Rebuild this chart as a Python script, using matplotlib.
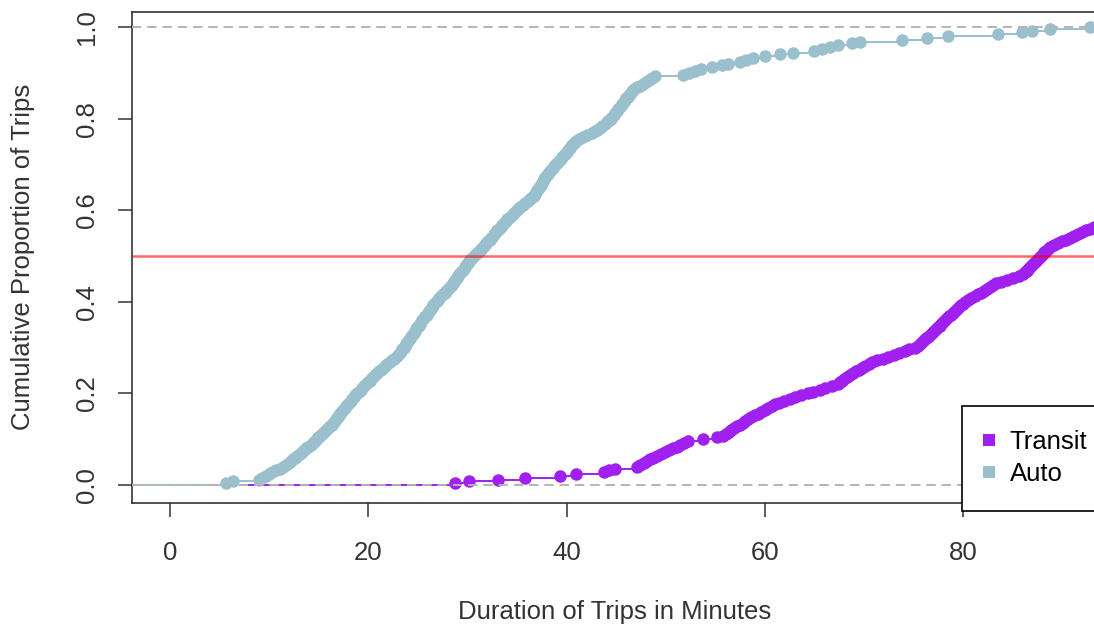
import numpy as np
import matplotlib.pyplot as plt
from matplotlib.lines import Line2D

# trip durations (minutes), one value per point
auto_minutes = [
    5.6, 6.4, 9.0, 9.3, 9.7, 10.0, 10.3, 10.7, 11.1, 11.4, 11.7,
    12.0, 12.2, 12.4, 12.6, 12.8, 13.1, 13.3, 13.5, 13.7, 13.9, 14.2, 14.4,
    14.6, 14.8, 14.9, 15.1, 15.3, 15.5, 15.7, 15.9, 16.1, 16.3,
    16.4, 16.6, 16.7, 16.9, 17.0, 17.2, 17.3, 17.5, 17.7, 17.8, 18.0, 18.1,
    18.3, 18.4, 18.6, 18.7, 18.9,
    19.1, 19.3, 19.4, 19.6, 19.8, 20.0, 20.2, 20.3, 20.5,
    20.7, 20.9, 21.1, 21.3, 21.5, 21.7, 21.9, 22.2, 22.4, 22.6, 22.8, 23.0, 23.2,
    23.3, 23.4, 23.6, 23.7, 23.8, 23.9, 24.1, 24.2, 24.3, 24.4, 24.6, 24.7,
    24.8, 24.9, 25.1, 25.2,
    25.3, 25.4, 25.6, 25.7, 25.9, 26.0, 26.1, 26.3, 26.4, 26.5,
    26.6, 26.8, 27.0, 27.1, 27.3, 27.5, 27.7, 27.8, 28.0, 28.2, 28.4, 28.6,
    28.7, 28.8, 29.0, 29.1, 29.2, 29.4, 29.5, 29.7, 29.8, 29.9, 30.1, 30.2,
    30.3, 30.5, 30.7, 30.9, 31.1, 31.3,
    31.4, 31.6, 31.8, 31.9, 32.1, 32.3, 32.4,
    32.6, 32.7, 32.9, 33.0, 33.2, 33.4, 33.5, 33.7, 33.9,
    34.0, 34.2, 34.4, 34.6, 34.8, 35.0, 35.2,
    35.3, 35.6, 35.8, 36.1, 36.3, 36.5,
    36.7, 36.8, 36.9, 37.0, 37.2, 37.3, 37.4, 37.5, 37.6, 37.7, 37.8, 38.0,
    38.1, 38.2, 38.4, 38.6, 38.7, 38.9, 39.0, 39.2,
    39.4, 39.5, 39.7, 39.9, 40.0, 40.2, 40.4, 40.5, 40.7, 40.9, 41.0,
    41.3, 41.7, 42.1, 42.6,
    42.9, 43.1, 43.4, 43.6, 43.9, 44.1, 44.3,
    44.5, 44.6, 44.8, 44.9, 45.1, 45.2, 45.3, 45.5, 45.6,
    45.8, 45.9, 46.0, 46.2, 46.3, 46.5, 46.6,
    46.8, 47.1, 47.4, 47.7, 48.0, 48.3, 48.6, 48.9,
    51.8, 52.4, 53.0, 53.6, 54.7, 55.7, 56.3, 57.5, 58.1, 58.8, 60.0, 61.5,
    62.8, 65.0, 65.8, 66.6, 67.4, 68.8, 69.6, 73.8, 76.4, 78.5, 83.5, 86.0,
    87.0, 88.8, 92.8,
]

# only the transit trips that are visible (the rest are longer than ~93 min)
transit_minutes = [
    28.8, 30.2, 33.1, 35.8, 39.3, 41.0, 43.8, 44.3, 44.9,
    47.1, 47.4, 47.8, 48.1, 48.4,
    48.7, 49.1, 49.5, 49.9, 50.3, 50.7, 51.1, 51.5, 51.9, 52.3, 53.8, 55.2,
    55.8, 56.1, 56.4, 56.6, 56.9, 57.2, 57.5, 57.8, 58.0,
    58.3, 58.6, 59.0, 59.3, 59.6, 60.0, 60.3, 60.7, 61.0, 61.4,
    61.9, 62.5, 63.1, 63.7, 64.4, 64.9, 65.6, 66.1, 66.8, 67.4,
    67.6, 67.8, 68.0, 68.3, 68.6, 68.9, 69.2, 69.5, 69.8, 70.1, 70.5,
    70.8, 71.3, 71.9, 72.4, 73.0, 73.5, 74.1, 74.6, 75.2,
    75.5, 75.7, 75.9, 76.1, 76.3, 76.5, 76.7, 76.9, 77.1, 77.3, 77.5, 77.7,
    77.8, 78.0, 78.2, 78.4, 78.6, 78.8, 79.0, 79.2, 79.4, 79.6, 79.8, 80.0,
    80.2, 80.5, 80.8, 81.2, 81.5, 81.8, 82.1, 82.4, 82.7, 83.0, 83.3,
    83.8, 84.4, 85.0, 85.6,
    86.1, 86.3, 86.5, 86.6, 86.8, 87.0, 87.2, 87.4, 87.5, 87.7, 87.9, 88.1,
    88.2, 88.4, 88.6,
    88.8, 89.2, 89.6, 90.0, 90.4, 90.8, 91.2, 91.6, 92.0, 92.4, 92.8, 93.2,
]
transit_n_trips = 250

x_ticks = [0, 20, 40, 60, 80]
y_ticks = [0.0, 0.2, 0.4, 0.6, 0.8, 1.0]

TRANSIT_COL = '#A020F0'
AUTO_COL = '#9AC0CD'
AXCOL = '#333333'

plt.rcParams['font.family'] = ['Liberation Sans', 'DejaVu Sans']

W, H = 1094, 635
fig = plt.figure(figsize=(W / 100, H / 100), dpi=100)
ax = fig.add_axes([132 / W, (H - 503) / H, 1 - 132 / W, (503 - 12) / H])

px_per_min = (963 - 170) / 80
xmin = (132 - 170) / px_per_min
xmax = (W - 170) / px_per_min
ax.set_xlim(xmin, xmax)
ax.set_ylim((485 - 503) / 458, (485 - 12) / 458)


def draw_ecdf(vals, n, col, start):
    x = np.sort(np.asarray(vals, dtype=float))
    y = np.arange(1, len(x) + 1) / n
    lefts = np.r_[start, x]
    rights = np.r_[x, xmax + 10]
    levels = np.r_[0.0, y]
    ax.hlines(levels, lefts, rights, colors=col, lw=1.4, zorder=2)
    ax.plot(x, y, 'o', ms=9, mew=0, color=col, zorder=3)
    for h in (0, 1):
        ax.axhline(h, color='#B3B3B3', ls=(0, (6, 4)), lw=1.1, zorder=4)


draw_ecdf(auto_minutes, len(auto_minutes), AUTO_COL, xmin - 10)
draw_ecdf(transit_minutes, transit_n_trips, TRANSIT_COL, 7.8)

ax.axhline(0.5, color='red', alpha=0.6, lw=1.8, zorder=5)

ax.set_xticks(x_ticks)
ax.set_xticklabels([str(v) for v in x_ticks])
ax.set_yticks(y_ticks)
ax.set_yticklabels(['%.1f' % v for v in y_ticks], rotation=90, va='center')
ax.tick_params(axis='both', length=10, width=1.1, color=AXCOL,
               labelsize=18.5, labelcolor=AXCOL)
ax.tick_params(axis='x', pad=17)
ax.tick_params(axis='y', pad=14)
for side in ('left', 'bottom', 'top'):
    ax.spines[side].set_color(AXCOL)
    ax.spines[side].set_linewidth(1.2)
ax.spines['right'].set_visible(False)

fig.text(615 / W, 1 - 612 / H, 'Duration of Trips in Minutes',
         ha='center', va='center', fontsize=18.5, color=AXCOL)
fig.text(23 / W, 1 - 257 / H, 'Cumulative Proportion of Trips',
         ha='center', va='center', rotation=90, fontsize=18.5, color=AXCOL)

handles = [Line2D([], [], marker='s', ls='none', ms=8.5, mew=0, color=TRANSIT_COL),
           Line2D([], [], marker='s', ls='none', ms=8.5, mew=0, color=AUTO_COL)]
leg = ax.legend(handles, ['Transit', 'Auto'], loc='upper left',
                bbox_to_anchor=(962 / W, 1 - 406 / H), bbox_transform=fig.transFigure,
                fancybox=False, borderpad=0.95, handlelength=0.2, handletextpad=0.7,
                labelspacing=0.3, fontsize=18.5, borderaxespad=0)
leg.get_frame().set_edgecolor('black')
leg.get_frame().set_linewidth(1.2)
leg.get_frame().set_alpha(1)
leg.set_zorder(6)

fig.savefig('out.png', dpi=100)
